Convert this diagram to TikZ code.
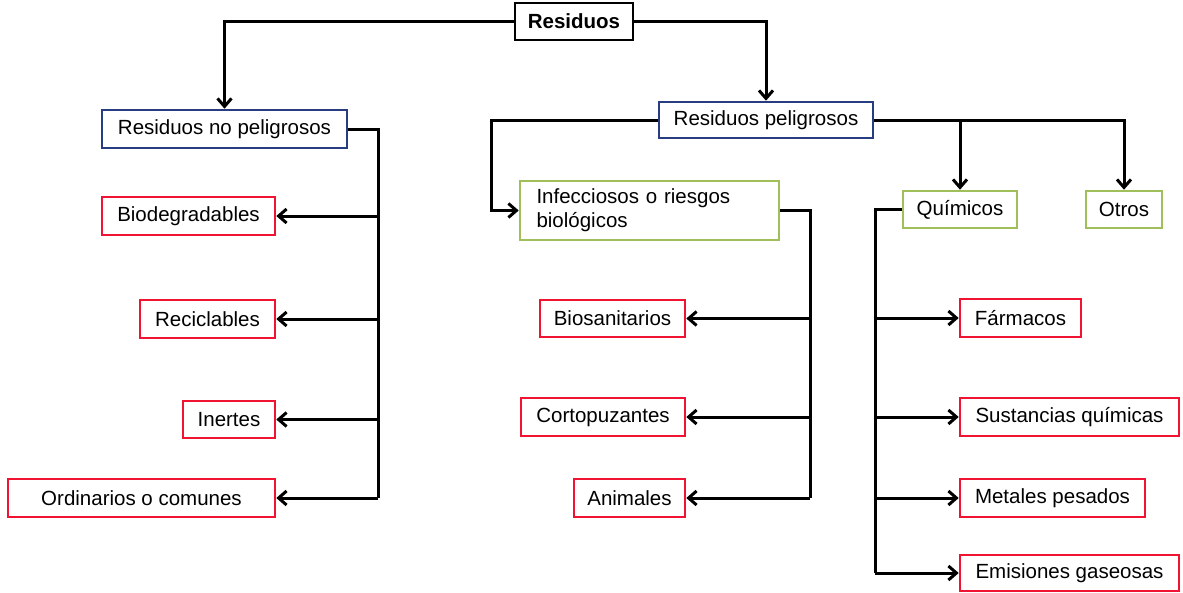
\documentclass[tikz,border=0pt]{standalone}
\usepackage{fontspec}
\setmainfont{Liberation Sans}
\usetikzlibrary{arrows.meta}
\definecolor{boxred}{RGB}{240,20,50}
\definecolor{boxblue}{RGB}{40,60,130}
\definecolor{boxgreen}{RGB}{160,190,90}
\tikzset{
  basebox/.style={draw, line width=2.6pt, fill=white, inner sep=0pt, anchor=center,
    font=\fontsize{20.5}{24}\selectfont},
  topbox/.style={basebox, draw=black, font=\fontsize{20.5}{24}\selectfont\bfseries},
  bluebox/.style={basebox, draw=boxblue},
  greenbox/.style={basebox, draw=boxgreen},
  redbox/.style={basebox, draw=boxred},
  link/.style={line width=3pt, draw=black},
  conn/.style={link, -{Straight Barb[length=8pt,width=14pt]}},
  sz/.style 2 args={minimum width=#1pt, minimum height=#2pt}
}
\begin{document}
\begin{tikzpicture}[x=1pt,y=-1pt]
\useasboundingbox (0,0) rectangle (1183,592);
% nodes
\node[topbox, sz={118}{37}] (res) at (574,21.5) {Residuos};
\node[bluebox, sz={245}{38}] (rnp) at (224.5,129) {Residuos no peligrosos};
\node[bluebox, sz={214}{36}] (rp) at (766,120) {Residuos peligrosos};
\node[greenbox, minimum height=59pt, text width=226pt, inner xsep=16.5pt, align=left] (inf) at (649.5,210.5) {Infecciosos o riesgos\\biológicos};
\node[greenbox, sz={114}{37}] (qui) at (960,209.5) {Químicos};
\node[greenbox, sz={76}{37}] (otr) at (1124,209.5) {Otros};
\node[redbox, sz={173}{38}] (bio) at (188.5,216) {Biodegradables};
\node[redbox, sz={135}{38}] (rec) at (207.5,319) {Reciclables};
\node[redbox, sz={92}{37}] (ine) at (229,419.5) {Inertes};
\node[redbox, sz={267}{38}] (ord) at (141.5,498) {Ordinarios o comunes};
\node[redbox, sz={145}{37}] (bios) at (612.5,318.5) {Biosanitarios};
\node[redbox, sz={164}{38}] (cor) at (603,417) {Cortopuzantes};
\node[redbox, sz={111}{38}] (ani) at (629.5,498) {Animales};
\node[redbox, sz={121}{38}] (far) at (1020.5,318) {Fármacos};
\node[redbox, sz={219}{38}] (sus) at (1069.5,417) {Sustancias químicas};
\node[redbox, sz={185}{38}] (met) at (1052.5,498) {Metales pesados};
\node[redbox, sz={219}{36}] (emi) at (1069.5,573) {Emisiones gaseosas};
% helper coordinates
\coordinate (c1) at (378,498);
\coordinate (c2) at (491,0);
\coordinate (c3) at (810,498);
\coordinate (c4) at (875,573);
% connectors
\draw[conn] (res.west) -| (rnp.north);
\draw[conn] (res.east) -| (rp.north);
\draw[link] (rnp.east) -| (c1);
\draw[conn] (c1 |- bio.east) -- (bio.east);
\draw[conn] (c1 |- rec.east) -- (rec.east);
\draw[conn] (c1 |- ine.east) -- (ine.east);
\draw[conn] (c1) -- (ord.east);
\draw[conn] (rp.west) -| (c2 |- inf.west) -- (inf.west);
\draw[link] (inf.east) -| (c3);
\draw[conn] (c3 |- bios.east) -- (bios.east);
\draw[conn] (c3 |- cor.east) -- (cor.east);
\draw[conn] (c3) -- (ani.east);
\draw[conn] (rp.east) -| (otr.north);
\draw[conn] (rp.east -| qui.north) -- (qui.north);
\draw[link] (qui.west) -| (c4);
\draw[conn] (c4 |- far.west) -- (far.west);
\draw[conn] (c4 |- sus.west) -- (sus.west);
\draw[conn] (c4 |- met.west) -- (met.west);
\draw[conn] (c4) -- (emi.west);
\end{tikzpicture}
\end{document}
